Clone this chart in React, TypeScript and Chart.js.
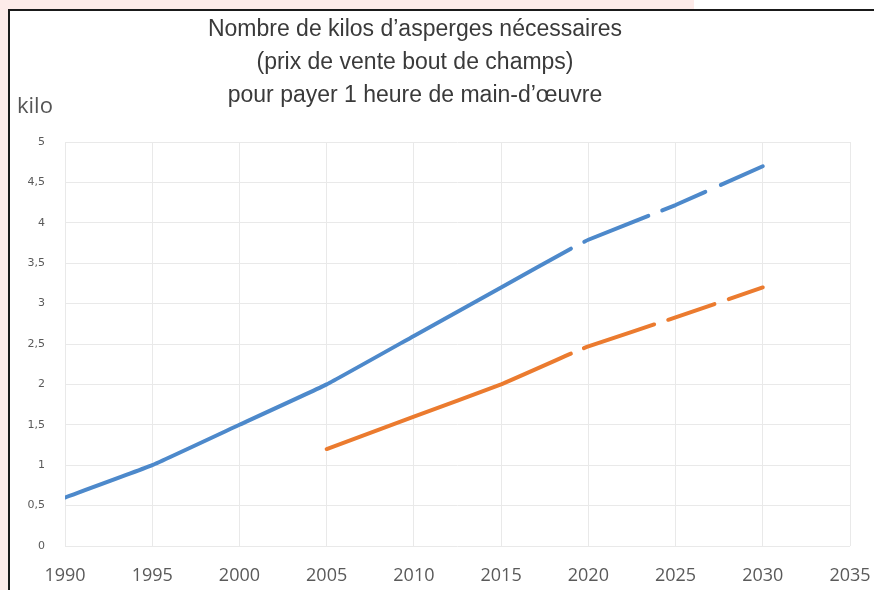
import React, { useEffect, useRef } from "react";
import { Chart, registerables } from "chart.js";

Chart.register(...registerables);

const TITLE_LINES = [
  "Nombre de kilos d’asperges nécessaires",
  "(prix de vente bout de champs)",
  "pour payer 1 heure de main-d’œuvre",
];
const Y_UNIT = "kilo";

const BLUE_YEARS = [1990, 1995, 2000, 2005, 2010, 2015, 2019, 2020, 2025, 2030];
const BLUE_VALUES = [0.6, 1.0, 1.5, 2.0, 2.6, 3.2, 3.68, 3.79, 4.22, 4.7];

const ORANGE_YEARS = [2005, 2010, 2015, 2019, 2020, 2025, 2030];
const ORANGE_VALUES = [1.2, 1.6, 2.0, 2.38, 2.47, 2.83, 3.2];

const PROJECTION_START = 2019;

const X_MIN = 1990;
const X_MAX = 2035;
const X_STEP = 5;
const Y_MIN = 0;
const Y_MAX = 5;
const Y_STEP = 0.5;

const BLUE = "#4d89cb";
const ORANGE = "#eb7b2f";
const GRID = "#e9e9e9";
const TICK_COLOR = "#5a5a5a";

const BLUE_DASH = [69, 15, 47, 17, 60, 15];
const BLUE_DASH_OFFSET = 208;
const ORANGE_DASH = [74, 15, 49, 15, 60, 14];
const ORANGE_DASH_OFFSET = 213;

const textPlugin = {
  id: "textPlugin",
  afterDraw(chart: any) {
    const ctx = chart.ctx;
    ctx.save();
    ctx.fillStyle = "#3a3a3a";
    ctx.font = "23px 'Liberation Sans'";
    ctx.textAlign = "center";
    ctx.textBaseline = "middle";
    const ys = [30, 63, 96];
    TITLE_LINES.forEach((t, i) => ctx.fillText(t, 415, ys[i]));
    ctx.fillStyle = "#555555";
    ctx.font = "22px 'Open Sans'";
    ctx.textAlign = "left";
    ctx.fillText(Y_UNIT, 17, 107);
    ctx.restore();
  },
};

export default function App() {
  const ref = useRef<HTMLCanvasElement>(null);
  useEffect(() => {
    if (!ref.current) return;
    const chart = new Chart(ref.current, {
      type: "line",
      data: {
        datasets: [
          {
            data: BLUE_YEARS.map((x, i) => ({ x, y: BLUE_VALUES[i] })),
            borderColor: BLUE,
            borderWidth: 4,
            pointRadius: 0,
            tension: 0.1,
            borderCapStyle: "round",
            borderJoinStyle: "round",
            segment: {
              borderDash: (c: any) => (c.p0.parsed.x >= PROJECTION_START ? BLUE_DASH : undefined),
              borderDashOffset: (c: any) => (c.p0.parsed.x >= PROJECTION_START ? BLUE_DASH_OFFSET : undefined),
            },
          },
          {
            data: ORANGE_YEARS.map((x, i) => ({ x, y: ORANGE_VALUES[i] })),
            borderColor: ORANGE,
            borderWidth: 4,
            pointRadius: 0,
            tension: 0.1,
            borderCapStyle: "round",
            borderJoinStyle: "round",
            segment: {
              borderDash: (c: any) => (c.p0.parsed.x >= PROJECTION_START ? ORANGE_DASH : undefined),
              borderDashOffset: (c: any) => (c.p0.parsed.x >= PROJECTION_START ? ORANGE_DASH_OFFSET : undefined),
            },
          },
        ],
      },
      options: {
        responsive: false,
        animation: false,
        layout: { padding: { left: 0, right: 24, top: 142, bottom: 0 } },
        plugins: { legend: { display: false }, title: { display: false }, tooltip: { enabled: false } },
        scales: {
          x: {
            type: "linear",
            min: X_MIN,
            max: X_MAX,
            ticks: {
              stepSize: X_STEP,
              color: TICK_COLOR,
              font: { family: "'Open Sans'", size: 18 },
              padding: 19,
              maxRotation: 0,
              callback: (v: any) => String(v),
            },
            grid: { color: GRID, drawTicks: false },
            border: { display: false },
            afterFit: (s: any) => {
              s.height = 44;
              s.paddingLeft = 0;
              s.paddingRight = 0;
            },
          },
          y: {
            min: Y_MIN,
            max: Y_MAX,
            ticks: {
              stepSize: Y_STEP,
              color: TICK_COLOR,
              font: { family: "'DejaVu Sans'", size: 11 },
              padding: 20,
              callback: (v: any) => String(v).replace(".", ","),
            },
            grid: { color: GRID, drawTicks: false },
            border: { display: false },
            afterFit: (s: any) => {
              s.width = 65;
              s.paddingTop = 0;
              s.paddingBottom = 0;
            },
          },
        },
      },
      plugins: [textPlugin],
    } as any);
    return () => chart.destroy();
  }, []);

  return (
    <div style={{ position: "absolute", left: 0, top: 0, width: 874, height: 590, background: "#fdebe9", overflow: "hidden" }}>
      <div style={{ position: "absolute", left: 694, top: 0, width: 180, height: 9, background: "#ffffff" }} />
      <div
        style={{
          position: "absolute",
          left: 8,
          top: 9,
          width: 866,
          height: 581,
          background: "#ffffff",
          borderLeft: "2px solid #1a1a1a",
          borderTop: "2px solid #1a1a1a",
          boxSizing: "border-box",
        }}
      />
      <canvas ref={ref} width={874} height={590} style={{ position: "absolute", left: 0, top: 0, display: "block" }} />
    </div>
  );
}
